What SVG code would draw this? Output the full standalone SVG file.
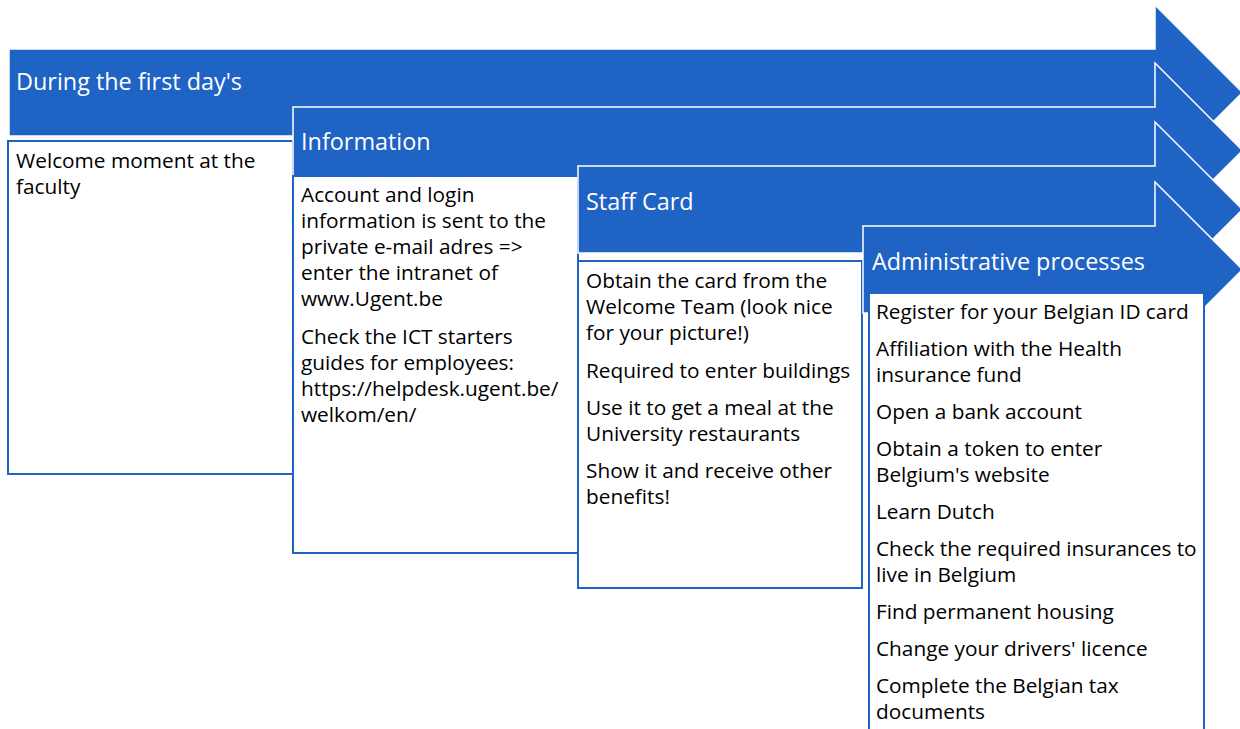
<svg xmlns="http://www.w3.org/2000/svg" width="1240" height="729" viewBox="0 0 1240 729">
<style>
.arrow{fill:#1F63C4;stroke:#FFFFFF;stroke-width:1.5}
.box{fill:#FFFFFF;stroke:#1F63C4;stroke-width:2}
.hd{font-family:"Open Sans","Liberation Sans",sans-serif;font-size:23.4px;fill:#FFFFFF}
.bd{font-family:"Open Sans","Liberation Sans",sans-serif;font-size:20.8px;fill:#000000}
</style>
<rect width="1240" height="729" fill="#FFFFFF"/>
<g id="connectors"></g>
<g id="step1">
<path class="arrow" d="M9,49 H1155 V5 L1242.5,92.5 L1155,180 V136 H9 Z"/>
<rect class="box" x="8" y="141" width="285" height="333"/>
<text class="hd" x="16" y="90">During the first day's</text>
<text class="bd" x="16" y="168">Welcome moment at the</text>
<text class="bd" x="16" y="194">faculty</text>
</g>
<g id="step2">
<path class="arrow" d="M293,107 H1155 V63 L1242.5,150.5 L1155,238 V194 H293 Z"/>
<rect class="box" x="293" y="176" width="285" height="377"/>
<text class="hd" x="301" y="150">Information</text>
<text class="bd" x="301" y="202">Account and login</text>
<text class="bd" x="301" y="228">information is sent to the</text>
<text class="bd" x="301" y="254">private e-mail adres =&gt;</text>
<text class="bd" x="301" y="280">enter the intranet of</text>
<text class="bd" x="301" y="306">www.Ugent.be</text>
<text class="bd" x="301" y="344">Check the ICT starters</text>
<text class="bd" x="301" y="370">guides for employees:</text>
<text class="bd" x="301" y="396">https://helpdesk.ugent.be/</text>
<text class="bd" x="301" y="422">welkom/en/</text>
</g>
<g id="step3">
<path class="arrow" d="M578,166 H1155 V122 L1242.5,209.5 L1155,297 V253 H578 Z"/>
<rect class="box" x="578" y="261" width="284" height="327"/>
<text class="hd" x="586" y="210">Staff Card</text>
<text class="bd" x="586" y="288">Obtain the card from the</text>
<text class="bd" x="586" y="314">Welcome Team (look nice</text>
<text class="bd" x="586" y="340">for your picture!)</text>
<text class="bd" x="586" y="378">Required to enter buildings</text>
<text class="bd" x="586" y="415">Use it to get a meal at the</text>
<text class="bd" x="586" y="441">University restaurants</text>
<text class="bd" x="586" y="478">Show it and receive other</text>
<text class="bd" x="586" y="504">benefits!</text>
</g>
<g id="step4">
<path class="arrow" d="M863,226 H1155 V182 L1242.5,269.5 L1155,357 V313 H863 Z"/>
<rect class="box" x="869" y="293" width="335" height="450"/>
<text class="hd" x="872" y="270">Administrative processes</text>
<text class="bd" x="876" y="319">Register for your Belgian ID card</text>
<text class="bd" x="876" y="356">Affiliation with the Health</text>
<text class="bd" x="876" y="382">insurance fund</text>
<text class="bd" x="876" y="419">Open a bank account</text>
<text class="bd" x="876" y="456">Obtain a token to enter</text>
<text class="bd" x="876" y="482">Belgium's website</text>
<text class="bd" x="876" y="519">Learn Dutch</text>
<text class="bd" x="876" y="556">Check the required insurances to</text>
<text class="bd" x="876" y="582">live in Belgium</text>
<text class="bd" x="876" y="619">Find permanent housing</text>
<text class="bd" x="876" y="656">Change your drivers' licence</text>
<text class="bd" x="876" y="693">Complete the Belgian tax</text>
<text class="bd" x="876" y="719">documents</text>
</g>
</svg>
